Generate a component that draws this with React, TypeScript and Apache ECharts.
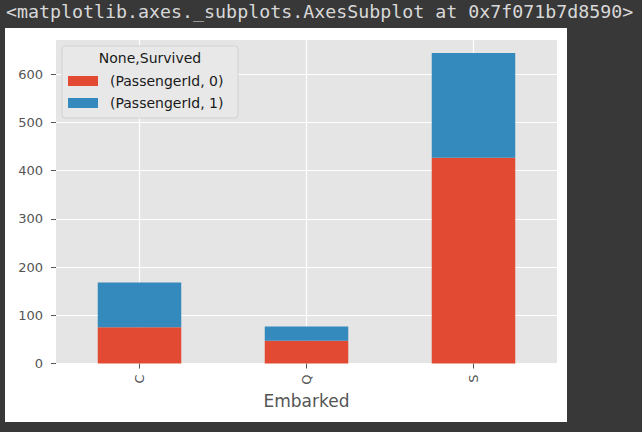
import React, { useEffect, useRef } from "react";
import * as echarts from "echarts";

const categories = ["C", "Q", "S"];
const diedCounts = [75, 47, 427];
const survivedCounts = [93, 30, 217];
const seriesNames = ["(PassengerId, 0)", "(PassengerId, 1)"];
const legendTitle = "None,Survived";
const xAxisName = "Embarked";
const headerText = "<matplotlib.axes._subplots.AxesSubplot at 0x7f071b7d8590>";
const yTickValues = [0, 100, 200, 300, 400, 500, 600];
const gridSlots = ["0", "1", "2", "3", "4", "5", "6"];

const FONT = "DejaVu Sans";

export default function App() {
  const ref = useRef<HTMLDivElement>(null);
  useEffect(() => {
    if (!ref.current) return;
    const chart = echarts.init(ref.current, undefined, { renderer: "svg" });
    chart.setOption({
      animation: false,
      backgroundColor: "transparent",
      textStyle: { fontFamily: FONT },
      grid: {
        left: 56,
        top: 40,
        right: 85,
        bottom: 68.5,
        show: true,
        backgroundColor: "#E5E5E5",
        borderWidth: 0,
        containLabel: false,
      },
      xAxis: [
        {
          type: "category",
          data: categories,
          axisLine: { show: false },
          axisTick: { show: true, alignWithLabel: true, length: 5, lineStyle: { color: "#555555" } },
          axisLabel: { rotate: 90, fontSize: 13, color: "#555555", margin: 11, fontFamily: FONT },
          splitLine: { show: false },
          name: xAxisName,
          nameLocation: "middle",
          nameGap: 28,
          nameTextStyle: { fontSize: 17, color: "#555555", fontFamily: FONT },
        },
        {
          type: "category",
          data: gridSlots,
          boundaryGap: false,
          position: "bottom",
          axisLine: { show: false },
          axisTick: { show: false },
          axisLabel: { show: false },
          splitLine: {
            show: true,
            interval: (i: number) => i % 2 === 1,
            lineStyle: { color: "#FFFFFF", width: 1.2 },
          },
        },
      ],
      yAxis: {
        type: "value",
        min: 0,
        max: 671,
        interval: 100,
        axisLine: { show: false },
        axisTick: {
          show: true,
          length: 5,
          customValues: yTickValues,
          lineStyle: { color: "#555555" },
        },
        axisLabel: {
          fontSize: 13,
          color: "#555555",
          margin: 13,
          fontFamily: FONT,
          customValues: yTickValues,
        },
        splitLine: { show: true, lineStyle: { color: "#FFFFFF", width: 1.2 } },
      },
      legend: {
        orient: "vertical",
        left: 68,
        top: 74,
        padding: 0,
        itemGap: 8,
        itemWidth: 30,
        itemHeight: 10,
        icon: "rect",
        selectedMode: false,
        data: seriesNames,
        textStyle: { fontSize: 14, color: "#1a1a1a", fontFamily: FONT, padding: [0, 0, 0, 7] },
      },
      graphic: [
        {
          type: "text",
          left: 6,
          top: 2,
          style: {
            text: headerText,
            font: '18.3px "DejaVu Sans Mono"',
            fill: "#d8d8d8",
          },
        },
        {
          type: "rect",
          z: 3,
          shape: { x: 62, y: 46, width: 176, height: 72, r: 3 },
          style: { fill: "#E8E8E8", stroke: "#D2D2D2", lineWidth: 1 },
        },
        {
          type: "text",
          z: 5,
          x: 150,
          y: 58,
          style: {
            text: legendTitle,
            font: `14px "${FONT}"`,
            fill: "#1a1a1a",
            textAlign: "center",
            textVerticalAlign: "middle",
          },
        },
      ],
      series: [
        {
          name: seriesNames[0],
          type: "bar",
          stack: "total",
          barWidth: "50%",
          xAxisIndex: 0,
          itemStyle: { color: "#E24A33" },
          data: diedCounts,
        },
        {
          name: seriesNames[1],
          type: "bar",
          stack: "total",
          barWidth: "50%",
          xAxisIndex: 0,
          itemStyle: { color: "#348ABD" },
          data: survivedCounts,
        },
      ],
    });
    return () => chart.dispose();
  }, []);

  return (
    <div
      style={{
        position: "fixed",
        left: 0,
        top: 0,
        width: 642,
        height: 432,
        background: "#383838",
        overflow: "hidden",
      }}
    >
      <div
        style={{ position: "absolute", left: 5, top: 28, width: 562, height: 394, background: "#FFFFFF" }}
      />
      <div ref={ref} style={{ position: "absolute", left: 0, top: 0, width: 642, height: 432 }} />
    </div>
  );
}
